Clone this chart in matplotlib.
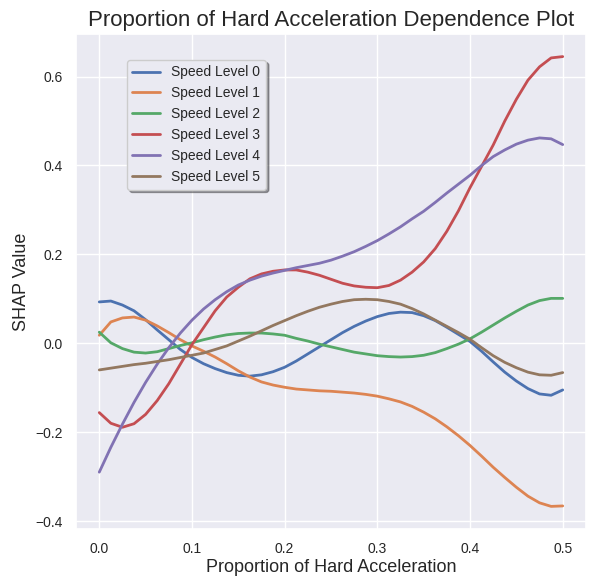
import matplotlib
matplotlib.use('Agg')
import matplotlib.pyplot as plt
import seaborn as sns

sns.set_theme(style='darkgrid')
plt.rcParams['font.family'] = ['Liberation Sans', 'DejaVu Sans']

# proportion of hard acceleration (x) and SHAP values per speed level
proportion = [0.0, 0.0125, 0.025, 0.0375, 0.05, 0.0625, 0.075, 0.0875, 0.1, 0.1125,
              0.125, 0.1375, 0.15, 0.1625, 0.175, 0.1875, 0.2, 0.2125, 0.225, 0.2375,
              0.25, 0.2625, 0.275, 0.2875, 0.3, 0.3125, 0.325, 0.3375, 0.35, 0.3625,
              0.375, 0.3875, 0.4, 0.4125, 0.425, 0.4375, 0.45, 0.4625, 0.475, 0.4875, 0.5]

level_0 = [0.093, 0.095, 0.086, 0.073, 0.053, 0.030, 0.008, -0.014, -0.032, -0.046,
           -0.057, -0.066, -0.072, -0.074, -0.071, -0.064, -0.054, -0.040, -0.024, -0.008,
           0.008, 0.024, 0.038, 0.050, 0.060, 0.067, 0.070, 0.069, 0.062, 0.051,
           0.036, 0.020, 0.004, -0.018, -0.042, -0.065, -0.085, -0.102, -0.114, -0.117, -0.105]
level_1 = [0.018, 0.048, 0.057, 0.059, 0.052, 0.039, 0.024, 0.008, -0.006, -0.018,
           -0.031, -0.046, -0.062, -0.076, -0.087, -0.094, -0.099, -0.103, -0.105, -0.107,
           -0.108, -0.110, -0.112, -0.115, -0.119, -0.125, -0.132, -0.142, -0.155, -0.170,
           -0.188, -0.208, -0.230, -0.254, -0.279, -0.302, -0.324, -0.344, -0.359, -0.367, -0.366]
level_2 = [0.025, 0.001, -0.012, -0.020, -0.022, -0.019, -0.012, -0.005, 0.001, 0.008,
           0.014, 0.019, 0.022, 0.023, 0.023, 0.021, 0.018, 0.011, 0.005, -0.002,
           -0.008, -0.014, -0.020, -0.024, -0.028, -0.030, -0.031, -0.030, -0.027, -0.021,
           -0.012, -0.002, 0.010, 0.025, 0.041, 0.057, 0.072, 0.086, 0.096, 0.101, 0.101]
level_3 = [-0.156, -0.180, -0.189, -0.181, -0.160, -0.129, -0.091, -0.047, -0.003, 0.035,
           0.073, 0.104, 0.126, 0.145, 0.156, 0.162, 0.165, 0.165, 0.160, 0.153,
           0.144, 0.135, 0.129, 0.126, 0.125, 0.130, 0.142, 0.160, 0.183, 0.213,
           0.252, 0.298, 0.350, 0.398, 0.446, 0.500, 0.549, 0.592, 0.622, 0.642, 0.645]
level_4 = [-0.290, -0.234, -0.182, -0.133, -0.088, -0.047, -0.010, 0.023, 0.052, 0.077,
           0.098, 0.116, 0.131, 0.142, 0.151, 0.158, 0.164, 0.170, 0.175, 0.180,
           0.187, 0.196, 0.206, 0.218, 0.231, 0.246, 0.262, 0.280, 0.297, 0.317,
           0.338, 0.358, 0.378, 0.400, 0.420, 0.435, 0.448, 0.457, 0.462, 0.460, 0.447]
level_5 = [-0.060, -0.056, -0.052, -0.048, -0.045, -0.041, -0.037, -0.032, -0.027, -0.022,
           -0.014, -0.006, 0.005, 0.016, 0.028, 0.040, 0.051, 0.062, 0.072, 0.081,
           0.088, 0.094, 0.098, 0.099, 0.098, 0.094, 0.088, 0.078, 0.066, 0.052,
           0.038, 0.024, 0.009, -0.010, -0.028, -0.043, -0.055, -0.065, -0.071, -0.072, -0.066]

levels = [level_0, level_1, level_2, level_3, level_4, level_5]
labels = ['Speed Level 0', 'Speed Level 1', 'Speed Level 2',
          'Speed Level 3', 'Speed Level 4', 'Speed Level 5']

fig, ax = plt.subplots(figsize=(6.04, 5.78), dpi=100)
fig.subplots_adjust(left=0.126, right=0.970, top=0.941, bottom=0.085)

for values, label in zip(levels, labels):
    ax.plot(proportion, values, linewidth=2, label=label)

ax.set_title('Proportion of Hard Acceleration Dependence Plot', fontsize=16)
ax.set_xlabel('Proportion of Hard Acceleration', fontsize=13, labelpad=2)
ax.set_ylabel('SHAP Value', fontsize=13)
ax.tick_params(labelsize=10)
ax.legend(loc='upper left', bbox_to_anchor=(0.086, 0.962), fontsize=10,
          shadow=True, frameon=True)

fig.savefig('out.png', dpi=100)
